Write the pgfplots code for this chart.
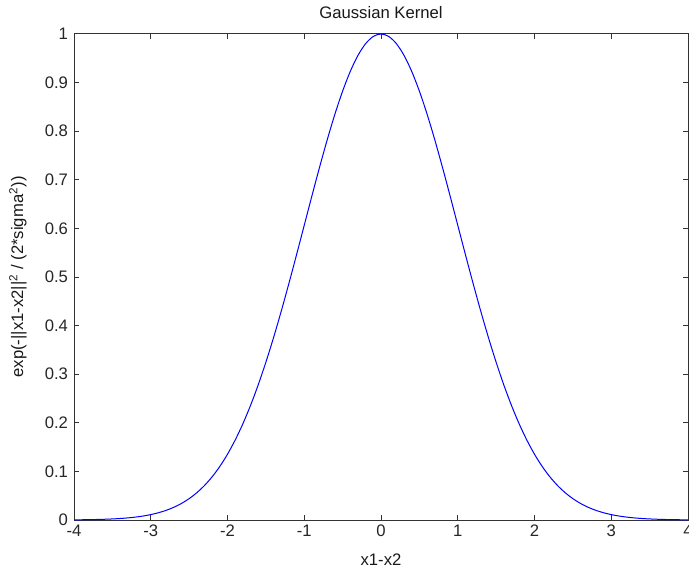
\documentclass[border=0pt]{standalone}
\usepackage{fontspec}
\setmainfont{Liberation Sans}
\usepackage{pgfplots}
\pgfplotsset{compat=1.18}
\begin{document}
\begin{tikzpicture}
\path[use as bounding box] (0pt,0pt) rectangle (516.75pt,429pt);
\begin{axis}[
  at={(55.5pt,39pt)}, anchor=south west,
  scale only axis, width=460.5pt, height=364.5pt,
  xmin=-4, xmax=4, ymin=0, ymax=1,
  xtick={-4,-3,...,4}, ytick={0,0.1,...,1},
  yticklabels={0,0.1,0.2,0.3,0.4,0.5,0.6,0.7,0.8,0.9,1},
  xticklabels={-4,-3,-2,-1,0,1,2,3,4},
  tick align=inside, major tick length=3.75pt,
  axis line style={draw=black!80, line width=0.75pt},
  every tick/.style={black!80, line width=0.75pt},
  tick label style={font=\fontsize{12.5}{14}\selectfont, text=black!85},
  yticklabel style={xshift=-1pt},
  /pgf/number format/assume math mode=true,
  title={Gaussian Kernel},
  title style={font=\fontsize{12.5}{14}\selectfont, text=black!90, at={(axis description cs:0.5,1)}, anchor=center, yshift=10pt},
  xlabel={x1-x2},
  xlabel style={font=\fontsize{12.5}{14}\selectfont, text=black!90, at={(axis description cs:0.5,0)}, anchor=center, yshift=-30pt},
  ylabel={exp(-||x1-x2||\textsuperscript{2} / (2*sigma\textsuperscript{2}))},
  ylabel style={font=\fontsize{12.5}{14}\selectfont, text=black!90, at={(axis description cs:-0.0912,0.5)}, anchor=center},
  clip=true,
]
\addplot[blue, line width=0.75pt, smooth] coordinates {
(-4.0,0.00034)(-3.9,0.00050)(-3.8,0.00073)(-3.7,0.00107)(-3.6,0.00154)(-3.5,0.00219)
(-3.4,0.00309)(-3.3,0.00432)(-3.2,0.00598)(-3.1,0.00819)(-3.0,0.01111)
(-2.9,0.01492)(-2.8,0.01984)(-2.7,0.02612)(-2.6,0.03405)(-2.5,0.04394)
(-2.4,0.05613)(-2.3,0.07101)(-2.2,0.08892)(-2.1,0.11025)(-2.0,0.13534)
(-1.9,0.16448)(-1.8,0.19790)(-1.7,0.23575)(-1.6,0.27804)(-1.5,0.32465)
(-1.4,0.37531)(-1.3,0.42956)(-1.2,0.48675)(-1.1,0.54607)(-1.0,0.60653)
(-0.9,0.66698)(-0.8,0.72615)(-0.7,0.78271)(-0.6,0.83527)(-0.5,0.88250)
(-0.4,0.92312)(-0.3,0.95600)(-0.2,0.98020)(-0.1,0.99501)(0.0,1.00000)
(0.1,0.99501)(0.2,0.98020)(0.3,0.95600)(0.4,0.92312)(0.5,0.88250)
(0.6,0.83527)(0.7,0.78271)(0.8,0.72615)(0.9,0.66698)(1.0,0.60653)
(1.1,0.54607)(1.2,0.48675)(1.3,0.42956)(1.4,0.37531)(1.5,0.32465)
(1.6,0.27804)(1.7,0.23575)(1.8,0.19790)(1.9,0.16448)(2.0,0.13534)
(2.1,0.11025)(2.2,0.08892)(2.3,0.07101)(2.4,0.05613)(2.5,0.04394)
(2.6,0.03405)(2.7,0.02612)(2.8,0.01984)(2.9,0.01492)(3.0,0.01111)
(3.1,0.00819)(3.2,0.00598)(3.3,0.00432)(3.4,0.00309)(3.5,0.00219)
(3.6,0.00154)(3.7,0.00107)(3.8,0.00073)(3.9,0.00050)(4.0,0.00034)
};
\end{axis}
\end{tikzpicture}
\end{document}
